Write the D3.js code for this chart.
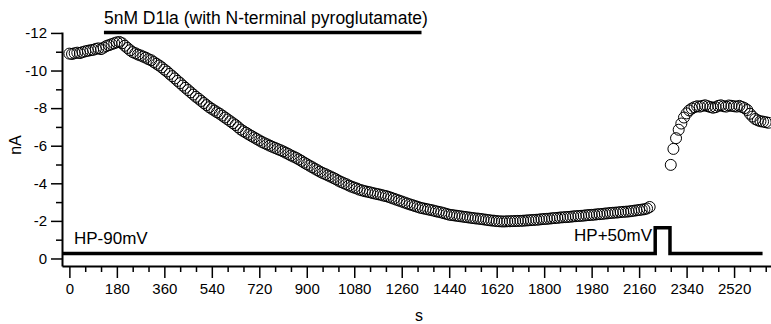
<!DOCTYPE html>
<html>
<head>
<meta charset="utf-8">
<script src="https://cdn.jsdelivr.net/npm/d3@7"></script>
<style>
  body { margin: 0; background: #fff; }
  text { font-family: "Liberation Sans", Arial, sans-serif; fill: #000; }
</style>
</head>
<body>
<script>
// current before the pulse (s, nA)
const timeBefore = [
  0,10,20,30,40,50,60,70,80,90,100,110,120,130,140,150,160,170,180,
  190,200,210,220,230,240,250,
  260,270,280,290,300,310,320,330,340,350,
  360,370,380,390,400,410,420,430,
  440,450,460,470,480,490,500,510,520,530,
  540,550,560,570,580,590,600,610,620,630,640,650,
  660,670,680,690,700,710,720,
  730,740,750,760,770,780,790,800,
  810,820,830,840,850,860,870,
  880,890,900,910,920,930,940,950,
  960,970,980,990,1000,1010,1020,1030,
  1040,1050,1060,1070,1080,1090,1100,
  1110,1120,1130,1140,1150,1160,1170,1180,1190,1200,1210,
  1220,1230,1240,1250,1260,1270,1280,1290,1300,1310,1320,1330,
  1340,1350,1360,1370,1380,1390,1400,1410,1420,1430,1440,
  1450,1460,1470,1480,1490,1500,1510,1520,1530,1540,1550,1560,
  1570,1580,1590,1600,1610,1620,1630,
  1640,1650,1660,1670,1680,1690,1700,1710,
  1720,1730,1740,1750,1760,1770,1780,1790,
  1800,1810,1820,1830,1840,1850,1860,
  1870,1880,1890,1900,1910,1920,1930,1940,1950,1960,1970,
  1980,1990,2000,2010,2020,2030,2040,2050,
  2060,2070,2080,2090,2100,2110,2120,2130,
  2140,2150,2160,2170,2180,2190,2200
];
const currentBefore = [
  -10.90,-10.88,-10.92,-10.95,-10.93,-10.98,-11.02,-11.05,-11.08,-11.10,-11.15,-11.18,-11.14,-11.22,-11.30,-11.35,-11.40,-11.45,-11.50,
  -11.52,-11.45,-11.32,-11.20,-11.08,-10.98,-10.92,
  -10.85,-10.80,-10.74,-10.68,-10.60,-10.55,-10.45,-10.36,-10.27,-10.17,
  -10.05,-9.95,-9.82,-9.70,-9.58,-9.45,-9.33,-9.20,
  -9.08,-8.96,-8.84,-8.72,-8.60,-8.50,-8.38,-8.27,-8.16,-8.05,
  -7.96,-7.87,-7.78,-7.70,-7.60,-7.50,-7.40,-7.30,-7.20,-7.10,-6.98,-6.86,
  -6.77,-6.69,-6.60,-6.52,-6.44,-6.36,-6.28,
  -6.20,-6.13,-6.07,-6.00,-5.94,-5.88,-5.82,-5.76,
  -5.70,-5.63,-5.56,-5.48,-5.42,-5.35,-5.27,
  -5.19,-5.10,-5.02,-4.94,-4.86,-4.78,-4.70,-4.62,
  -4.55,-4.49,-4.42,-4.36,-4.29,-4.22,-4.14,-4.07,
  -4.01,-3.95,-3.88,-3.82,-3.77,-3.72,-3.66,
  -3.62,-3.58,-3.55,-3.52,-3.48,-3.45,-3.42,-3.39,-3.35,-3.32,-3.28,
  -3.23,-3.18,-3.13,-3.08,-3.03,-2.98,-2.93,-2.88,-2.84,-2.79,-2.75,-2.70,
  -2.67,-2.64,-2.61,-2.58,-2.55,-2.51,-2.48,-2.45,-2.41,-2.37,-2.33,
  -2.31,-2.29,-2.27,-2.25,-2.23,-2.21,-2.19,-2.17,-2.15,-2.13,-2.12,-2.10,
  -2.08,-2.06,-2.04,-2.02,-2.01,-1.99,-1.98,
  -1.97,-1.97,-1.98,-1.98,-1.99,-1.99,-2.00,-2.00,
  -2.01,-2.02,-2.03,-2.04,-2.05,-2.06,-2.07,-2.09,
  -2.10,-2.11,-2.12,-2.14,-2.15,-2.16,-2.18,
  -2.19,-2.20,-2.21,-2.22,-2.24,-2.25,-2.26,-2.27,-2.28,-2.30,-2.31,
  -2.32,-2.33,-2.35,-2.36,-2.37,-2.39,-2.40,-2.42,
  -2.43,-2.44,-2.45,-2.47,-2.48,-2.49,-2.50,-2.52,
  -2.54,-2.56,-2.58,-2.60,-2.62,-2.66,-2.74
];

// current after the +50 mV pulse
const timeAfter = [
  2280,2290,2300,2310,2320,2330,2340,2350,
  2360,2370,2380,2390,2400,2410,2420,2430,2440,2450,
  2460,2470,2480,2490,2500,2510,2520,2530,2540,2550,
  2560,2570,2580,2590,2600,2610,2620,2630,2640,2650
];
const currentAfter = [
  -4.98,-5.83,-6.40,-6.85,-7.18,-7.50,-7.72,-7.88,
  -7.98,-8.05,-8.10,-8.08,-8.12,-8.15,-8.10,-8.06,-8.02,-8.05,
  -8.12,-8.15,-8.10,-8.08,-8.14,-8.12,-8.10,-8.08,-8.12,-8.06,
  -8.00,-7.90,-7.70,-7.55,-7.42,-7.35,-7.30,-7.28,-7.25,-7.22
];

// holding potential trace (drawn in nA units of the plot)
const stimTimes = [-28, 2221, 2221, 2277, 2277, 2628];
const stimLevels = [-0.26, -0.26, -1.64, -1.64, -0.26, -0.26];

// toxin application bar
const drugTimes = [131, 1335];
const drugLevel = -12.03;

const xMajorTicks = [0,180,360,540,720,900,1080,1260,1440,1620,1800,1980,2160,2340,2520];
const yMajorTicks = [0,-2,-4,-6,-8,-10,-12];

const width = 771, height = 324;

let svg = d3.select("body")
  .append("svg")
  .attr("width", width)
  .attr("height", height);

let x = d3.scaleLinear().domain([-28, 2660]).range([62, 771]);
let y = d3.scaleLinear().domain([0.4, -12.05]).range([266, 32]);

// x axis: majors every 180 s, minors every 60 s
let xMinor = d3.range(0, 2660, 60).filter(t => t % 180 != 0);
svg.append("g")
  .attr("transform", "translate(0,266)")
  .call(d3.axisBottom(x).tickValues(xMinor).tickSize(6).tickFormat(""))
  .call(g => g.select(".domain").remove())
  .call(g => g.selectAll("line").attr("stroke-width", 1.5));

svg.append("g")
  .attr("transform", "translate(0,266)")
  .call(d3.axisBottom(x).tickValues(xMajorTicks).tickSize(12).tickSizeOuter(0).tickPadding(5).tickFormat(d => d))
  .call(g => g.select(".domain").attr("stroke-width", 2))
  .call(g => g.selectAll("line").attr("stroke-width", 1.5))
  .call(g => g.selectAll("text").attr("font-size", 15).attr("font-family", null));

// y axis: majors every 2 nA, minors in between
let yMinor = [-1,-3,-5,-7,-9,-11];
svg.append("g")
  .attr("transform", "translate(62,0)")
  .call(d3.axisLeft(y).tickValues(yMinor).tickSize(6).tickFormat(""))
  .call(g => g.select(".domain").remove())
  .call(g => g.selectAll("line").attr("stroke-width", 1.5));

svg.append("g")
  .attr("transform", "translate(62,0)")
  .call(d3.axisLeft(y).tickValues(yMajorTicks).tickSize(11).tickSizeOuter(0).tickPadding(4).tickFormat(d => String(d)))
  .call(g => g.select(".domain").attr("stroke-width", 2))
  .call(g => g.selectAll("line").attr("stroke-width", 1.5))
  .call(g => g.selectAll("text").attr("font-size", 15).attr("font-family", null));

// axis titles
svg.append("text")
  .attr("x", 419).attr("y", 321)
  .attr("text-anchor", "middle")
  .attr("font-size", 16)
  .text("s");

svg.append("text")
  .attr("transform", "translate(21,145) rotate(-90)")
  .attr("text-anchor", "middle")
  .attr("font-size", 16)
  .text("nA");

// stimulus trace
let stim = stimTimes.map((t, i) => [t, stimLevels[i]]);
svg.append("path")
  .attr("d", d3.line().x(d => x(d[0])).y(d => y(d[1]))(stim))
  .attr("fill", "none")
  .attr("stroke", "#000")
  .attr("stroke-width", 3.5);

svg.append("text")
  .attr("x", 74).attr("y", 244)
  .attr("font-size", 17)
  .text("HP-90mV");

svg.append("text")
  .attr("x", 652).attr("y", 241)
  .attr("text-anchor", "end")
  .attr("font-size", 17)
  .text("HP+50mV");

// toxin bar + label
svg.append("line")
  .attr("x1", x(drugTimes[0])).attr("x2", x(drugTimes[1]))
  .attr("y1", y(drugLevel)).attr("y2", y(drugLevel))
  .attr("stroke", "#000")
  .attr("stroke-width", 3.5);

svg.append("text")
  .attr("x", x(drugTimes[0])).attr("y", 24)
  .attr("font-size", 17.5)
  .text("5nM D1la (with N-terminal pyroglutamate)");

// data points as open circles
let pts = timeBefore.map((t, i) => [t, currentBefore[i]])
  .concat(timeAfter.map((t, i) => [t, currentAfter[i]]));

svg.append("g")
  .selectAll("circle")
  .data(pts)
  .join("circle")
  .attr("cx", d => x(d[0]))
  .attr("cy", d => y(d[1]))
  .attr("r", 5.5)
  .attr("fill", "none")
  .attr("stroke", "#000")
  .attr("stroke-width", 1);
</script>
</body>
</html>
